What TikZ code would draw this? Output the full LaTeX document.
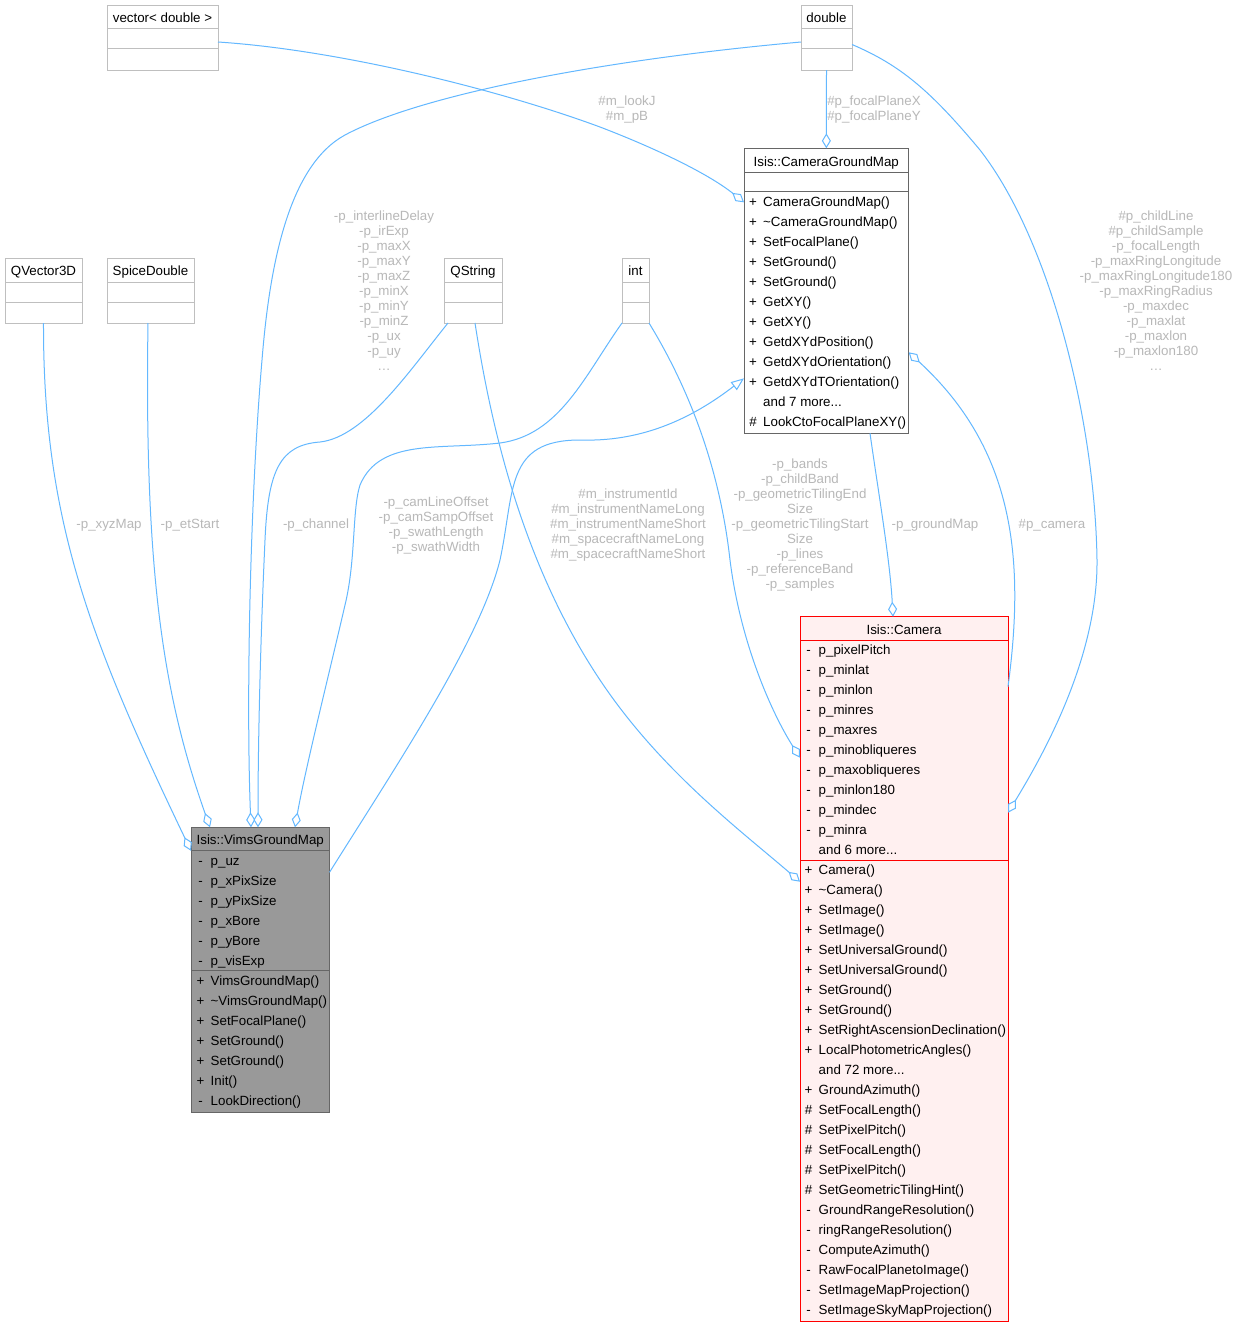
\documentclass[tikz,border=0pt]{standalone}
\usepackage{fontspec}
\setmainfont{Liberation Sans}
\usetikzlibrary{arrows.meta,calc}
\definecolor{edgec}{HTML}{63B8FF}
\definecolor{lblc}{HTML}{B8B8B8}
\definecolor{extc}{HTML}{BFBFBF}
\definecolor{dgray}{HTML}{666666}
\definecolor{vimsfill}{HTML}{999999}
\definecolor{camfill}{HTML}{FFF0F0}
\definecolor{camline}{HTML}{FF0000}
\newcommand\dxfont{\fontsize{13.33}{15}\selectfont}
\newcommand\threedots{.{}.{}.}
\newcommand\clsnode[6]{\node[#6, minimum width={(#4-#2)*1pt}, minimum height={(#5-#3)*1pt}] (#1) at ({(#2+#4)/2},{(#3+#5)/2}) {};}
\newcommand\hsep[4]{\draw[#1, line width=1pt] (#2,#4) -- (#3,#4);}
\tikzset{
  clsbox/.style={draw, inner sep=0pt, outer sep=0pt, line width=1pt},
  extbox/.style={clsbox, draw=extc, fill=white},
  cgmbox/.style={clsbox, draw=dgray, fill=white},
  vimsbox/.style={clsbox, draw=dgray, fill=vimsfill},
  cambox/.style={clsbox, draw=camline, fill=camfill},
  ttl/.style={anchor=base, inner sep=0pt, font=\dxfont, text=black},
  sgn/.style={anchor=base, inner sep=0pt, font=\dxfont, text=black},
  txt/.style={anchor=base west, inner sep=0pt, font=\dxfont, text=black},
  lbl/.style={align=center, inner sep=0pt, text=lblc, font=\dxfont},
  conn/.style={draw=edgec, line width=1pt},
  agg/.style={conn, -{Diamond[open, fill=white, length=15pt, width=9pt]}},
  inh/.style={conn, -{Triangle[open, fill=white, length=13pt, width=10pt]}},
}
\begin{document}
\begin{tikzpicture}[x=1pt,y=-1pt]
\fill[white] (0,0) rectangle (1235,1328);
\useasboundingbox (0,0) rectangle (1235,1328);

% ---------- external classes ----------
\clsnode{vec}{107}{5}{218}{70}{extbox}
\hsep{extc}{107}{218}{28}\hsep{extc}{107}{218}{48}
\node[ttl] (vecT) at (162.5,22.5) {vector< double >};

\clsnode{dbl}{801}{5}{852}{70}{extbox}
\hsep{extc}{801}{852}{28}\hsep{extc}{801}{852}{48}
\node[ttl] (dblT) at (826.5,22.5) {double};

\clsnode{qv}{5}{258}{82}{323}{extbox}
\hsep{extc}{5}{82}{282}\hsep{extc}{5}{82}{302}
\node[ttl] (qvT) at (43.5,275.5) {QVector3D};

\clsnode{sd}{107}{258}{194}{323}{extbox}
\hsep{extc}{107}{194}{282}\hsep{extc}{107}{194}{302}
\node[ttl] (sdT) at (150.5,275.5) {SpiceDouble};

\clsnode{qs}{444}{258}{502}{323}{extbox}
\hsep{extc}{444}{502}{282}\hsep{extc}{444}{502}{302}
\node[ttl] (qsT) at (473,275.5) {QString};

\clsnode{int}{622}{258}{649}{323}{extbox}
\hsep{extc}{622}{649}{282}\hsep{extc}{622}{649}{302}
\node[ttl] (intT) at (635.5,275.5) {int};

% ---------- Isis::CameraGroundMap ----------
\clsnode{cgm}{744}{148.3}{908.7}{433.3}{cgmbox}
\hsep{dgray}{744}{908.7}{172.7}\hsep{dgray}{744}{908.7}{191.7}
\node[ttl] (cgmT) at (826.3,166.5) {Isis::CameraGroundMap};
\foreach \s/\t [count=\i from 0] in {+/CameraGroundMap(), +/\textasciitilde CameraGroundMap(), +/SetFocalPlane(), +/SetGround(), +/SetGround(), +/GetXY(), +/GetXY(), +/GetdXYdPosition(), +/GetdXYdOrientation(), +/GetdXYdTOrientation(), {}/and 7 more\threedots, \#/LookCtoFocalPlaneXY()}
{\node[sgn] (cgmS\i) at (753,206.2+20*\i) {\s}; \node[txt] (cgmR\i) at (763,206.2+20*\i) {\t};}

% ---------- Isis::VimsGroundMap ----------
\clsnode{vims}{191}{827.3}{329.5}{1112}{vimsbox}
\hsep{dgray}{191}{329.5}{850}\hsep{dgray}{191}{329.5}{970.7}
\node[ttl] (vimsT) at (260.25,844.5) {Isis::VimsGroundMap};
\foreach \s/\t [count=\i from 0] in {-/p\_uz, -/p\_xPixSize, -/p\_yPixSize, -/p\_xBore, -/p\_yBore, -/p\_visExp}
{\node[sgn] (vimsA\i) at (200.5,865+20*\i) {\s}; \node[txt] (vimsB\i) at (210.5,865+20*\i) {\t};}
\foreach \s/\t [count=\i from 0] in {+/VimsGroundMap(), +/\textasciitilde VimsGroundMap(), +/SetFocalPlane(), +/SetGround(), +/SetGround(), +/Init(), -/LookDirection()}
{\node[sgn] (vimsM\i) at (200.5,985.5+20*\i) {\s}; \node[txt] (vimsN\i) at (210.5,985.5+20*\i) {\t};}

% ---------- Isis::Camera ----------
\clsnode{cam}{800}{616.7}{1008}{1321.7}{cambox}
\hsep{camline}{800}{1008}{640}\hsep{camline}{800}{1008}{860}
\node[ttl] (camT) at (904,634.5) {Isis::Camera};
\foreach \s/\t [count=\i from 0] in {-/p\_pixelPitch, -/p\_minlat, -/p\_minlon, -/p\_minres, -/p\_maxres, -/p\_minobliqueres, -/p\_maxobliqueres, -/p\_minlon180, -/p\_mindec, -/p\_minra, {}/and 6 more\threedots}
{\node[sgn] (camA\i) at (808.5,654.8+20*\i) {\s}; \node[txt] (camB\i) at (818.5,654.8+20*\i) {\t};}
\foreach \s/\t [count=\i from 0] in {+/Camera(), +/\textasciitilde Camera(), +/SetImage(), +/SetImage(), +/SetUniversalGround(), +/SetUniversalGround(), +/SetGround(), +/SetGround(), +/SetRightAscensionDeclination(), +/LocalPhotometricAngles(), {}/and 72 more\threedots, +/GroundAzimuth(), \#/SetFocalLength(), \#/SetPixelPitch(), \#/SetFocalLength(), \#/SetPixelPitch(), \#/SetGeometricTilingHint(), -/GroundRangeResolution(), -/ringRangeResolution(), -/ComputeAzimuth(), -/RawFocalPlanetoImage(), -/SetImageMapProjection(), -/SetImageSkyMapProjection()}
{\node[sgn] (camM\i) at (808.5,874.8+20*\i) {\s}; \node[txt] (camN\i) at (818.5,874.8+20*\i) {\t};}

% ---------- connectors ----------
\draw[agg] ($(vec.east)+(0,4.5)$) .. controls (340,50) and (500,90) .. (600,127)
  .. controls (660,150) and (710,175) .. ($(cgm.north west)+(0,54)$);
\draw[agg] ($(dbl.west)+(0,4.5)$) .. controls (600,60) and (420,95) .. (345,135)
  .. controls (290,165) and (270,260) .. (262,360)
  .. controls (250,500) and (246,700) .. ($(vims.north west)+(60,0)$);
\draw[agg] (qv.south) .. controls (43,520) and (90,640) .. ($(vims.north west)+(0,23.5)$);
\draw[agg] ($(sd.south)+(-2.5,0)$) .. controls (144,580) and (165,700) .. ($(vims.north west)+(19,0)$);
\draw[agg] ($(qs.south west)+(4,0)$) .. controls (410,370) and (365,437) .. (320,442)
  .. controls (280,445) and (268,470) .. (265,540)
  .. controls (260,650) and (258,750) .. ($(vims.north west)+(67,0)$);
\draw[agg] (int.south west) .. controls (585,375) and (560,435) .. (500,443)
  .. controls (440,450) and (380,438) .. (360,485)
  .. controls (352,510) and (356,560) .. (345,605)
  .. controls (330,670) and (305,770) .. ($(vims.north west)+(104,0)$);
\draw[agg] ($(qs.south)+(2,0)$) .. controls (490,420) and (520,560) .. (600,680)
  .. controls (660,770) and (740,830) .. ($(cam.north west)+(0,265)$);
\draw[agg] (int.south east) .. controls (690,390) and (720,470) .. (730,560)
  .. controls (740,640) and (770,710) .. ($(cam.north west)+(0,141)$);
\draw[inh] ($(vims.north east)+(0,45)$) .. controls (400,760) and (480,640) .. (500,560)
  .. controls (515,490) and (505,440) .. (580,440)
  .. controls (640,442) and (690,420) .. ($(cgm.north west)+(0,230)$);
\draw[agg] ($(cgm.south west)+(126,0)$) .. controls (878,490) and (890,560) .. ($(cam.north west)+(93,0)$);
\draw[agg] ($(cam.north east)+(0,70)$) .. controls (1025,560) and (1015,450) .. ($(cgm.north east)+(0,204)$);
\draw[agg] ($(dbl.east)+(0,7)$) .. controls (900,65) and (930,90) .. (980,150)
  .. controls (1050,240) and (1095,420) .. (1097,560)
  .. controls (1098,660) and (1040,760) .. ($(cam.north east)+(0,196)$);
\draw[agg] (dbl.south) -- (cgm.north);

% ---------- connector labels ----------
\node[lbl] (lLook) at (627,109.5) {\#m\_lookJ\\\#m\_pB};
\node[lbl] (lFocal) at (874,109.5) {\#p\_focalPlaneX\\\#p\_focalPlaneY};
\node[lbl] (lDblCam) at (1156,291) {\#p\_childLine\\\#p\_childSample\\-p\_focalLength\\-p\_maxRingLongitude\\-p\_maxRingLongitude180\\-p\_maxRingRadius\\-p\_maxdec\\-p\_maxlat\\-p\_maxlon\\-p\_maxlon180\\…};
\node[lbl] (lDblVims) at (384,291) {-p\_interlineDelay\\-p\_irExp\\-p\_maxX\\-p\_maxY\\-p\_maxZ\\-p\_minX\\-p\_minY\\-p\_minZ\\-p\_ux\\-p\_uy\\…};
\node[lbl] (lXyz) at (109,525) {-p\_xyzMap};
\node[lbl] (lEt) at (190,525) {-p\_etStart};
\node[lbl] (lChan) at (316,525) {-p\_channel};
\node[lbl] (lCamLine) at (436,525.5) {-p\_camLineOffset\\-p\_camSampOffset\\-p\_swathLength\\-p\_swathWidth};
\node[lbl] (lInstr) at (628,525) {\#m\_instrumentId\\\#m\_instrumentNameLong\\\#m\_instrumentNameShort\\\#m\_spacecraftNameLong\\\#m\_spacecraftNameShort};
\node[lbl] (lBands) at (800,525) {-p\_bands\\-p\_childBand\\-p\_geometricTilingEnd\\Size\\-p\_geometricTilingStart\\Size\\-p\_lines\\-p\_referenceBand\\-p\_samples};
\node[lbl] (lGm) at (935,525) {-p\_groundMap};
\node[lbl] (lPcam) at (1052,525) {\#p\_camera};
\end{tikzpicture}
\end{document}
